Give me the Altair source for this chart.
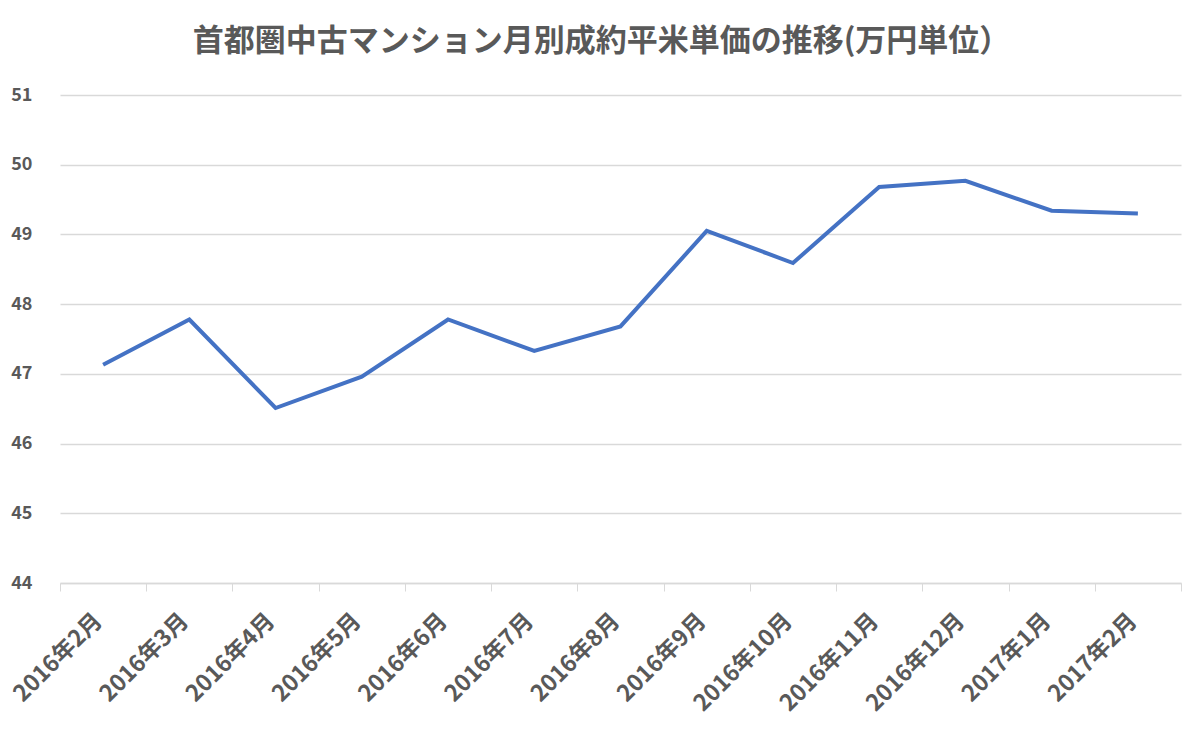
import altair as alt
import pandas as pd

months = ["2016年2月", "2016年3月", "2016年4月", "2016年5月", "2016年6月", "2016年7月",
          "2016年8月", "2016年9月", "2016年10月", "2016年11月", "2016年12月", "2017年1月", "2017年2月"]
prices = [47.13, 47.78, 46.51, 46.96, 47.78, 47.33, 47.68, 49.05, 48.59, 49.68, 49.77, 49.34, 49.30]

df = pd.DataFrame({"month": months, "price": prices})

FONT = "Noto Sans CJK JP"
GRAY = "#595959"

chart = alt.Chart(df).mark_line(color="#4472C4", strokeWidth=4, strokeJoin="miter").encode(
    x=alt.X("month:N", sort=months, bandPosition=0.5,
            scale=alt.Scale(type="band", paddingInner=0, paddingOuter=0),
            axis=alt.Axis(title=None, labelAngle=315, labelAlign="right", labelBaseline="middle",
                          labelPadding=26, labelOffset=-5, labelFont=FONT, labelFontSize=23,
                          labelFontWeight="bold", labelColor=GRAY, tickBand="extent",
                          tickColor="#D9D9D9", tickSize=8,
                          domainColor="#D9D9D9", domainWidth=1.5, grid=False)),
    y=alt.Y("price:Q", scale=alt.Scale(domain=[44, 51], nice=False, zero=False),
            axis=alt.Axis(title=None, values=[44, 45, 46, 47, 48, 49, 50, 51], domain=False, ticks=False,
                          labelPadding=28, labelFont=FONT, labelFontSize=18, labelFontWeight="bold",
                          labelColor=GRAY, gridColor="#D9D9D9", gridWidth=1.5)),
).properties(
    width=1121, height=488,
    autosize=alt.AutoSizeParams(type="none"),
    padding={"left": 60, "top": 95, "right": 19, "bottom": 151},
    title=alt.TitleParams("首都圏中古マンション月別成約平米単価の推移(万円単位）", font=FONT, fontSize=31,
                          fontWeight="bold", color=GRAY, anchor="middle", offset=28, dx=-19),
).configure_view(stroke=None)

chart.save("out.html", embed_options={"renderer": "svg", "actions": False})
